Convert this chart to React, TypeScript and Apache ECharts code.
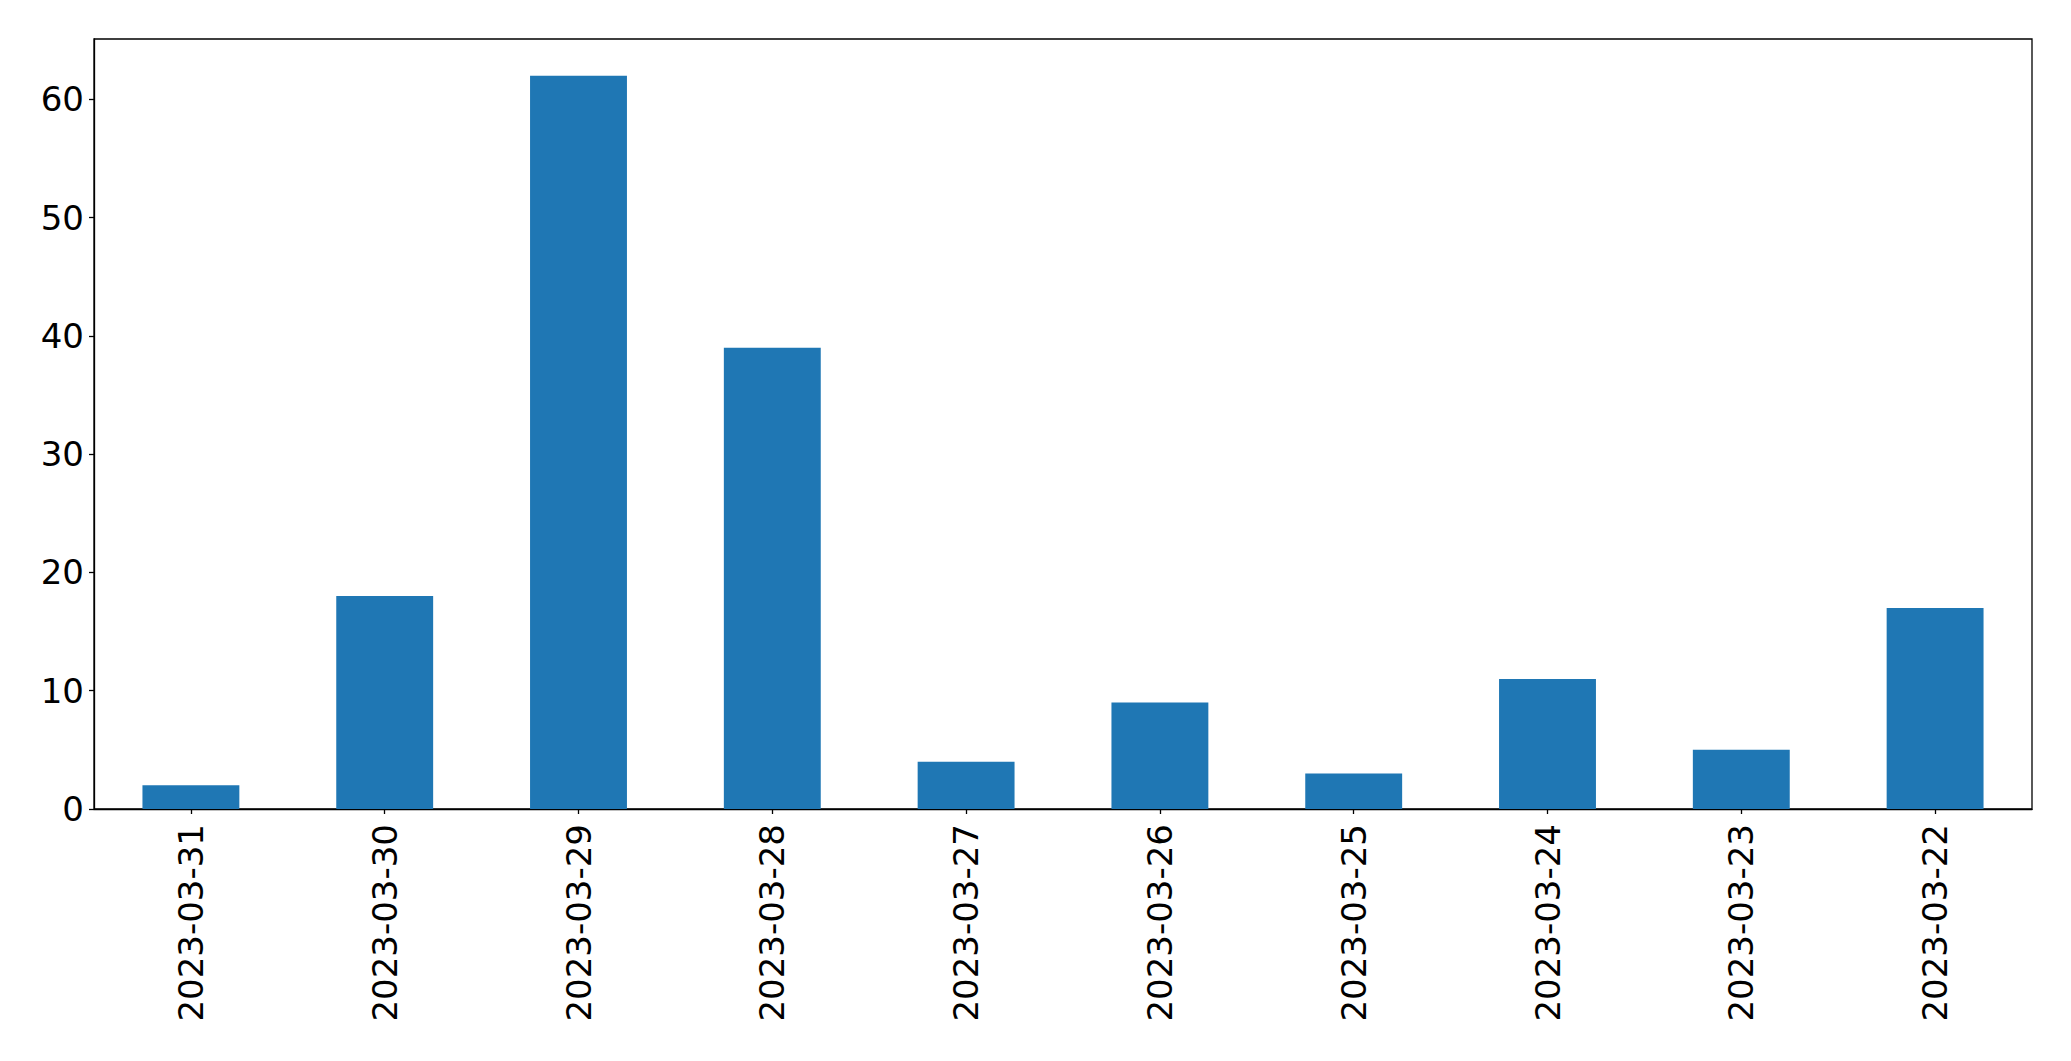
import React, { useEffect, useRef } from "react";
import * as echarts from "echarts";

const categories = [
  "2023-03-31",
  "2023-03-30",
  "2023-03-29",
  "2023-03-28",
  "2023-03-27",
  "2023-03-26",
  "2023-03-25",
  "2023-03-24",
  "2023-03-23",
  "2023-03-22",
];
const values = [2, 18, 62, 39, 4, 9, 3, 11, 5, 17];
const yTicks = [0, 10, 20, 30, 40, 50, 60];
const yMax = 65.1;

export default function App() {
  const ref = useRef<HTMLDivElement>(null);
  useEffect(() => {
    document.body.style.margin = "0";
    const chart = echarts.init(ref.current!, null, { renderer: "svg" });
    const font = "DejaVu Sans";
    chart.setOption({
      animation: false,
      backgroundColor: "#ffffff",
      grid: {
        left: 94,
        top: 39,
        width: 1938,
        height: 770,
        show: true,
        borderColor: "#000000",
        borderWidth: 1.3,
        backgroundColor: "transparent",
        containLabel: false,
      },
      xAxis: {
        type: "category",
        data: categories,
        boundaryGap: true,
        axisLine: { show: true, lineStyle: { color: "#000", width: 1.3 } },
        axisTick: { show: true, alignWithLabel: true, length: 5, lineStyle: { color: "#000", width: 1.3 } },
        axisLabel: {
          rotate: 90,
          interval: 0,
          margin: 15,
          color: "#000",
          fontSize: 34,
          fontFamily: font,
        },
        splitLine: { show: false },
      },
      yAxis: {
        type: "value",
        min: 0,
        max: yMax,
        interval: 10,
        axisLine: { show: true, lineStyle: { color: "#000", width: 1.3 } },
        axisTick: { show: true, length: 5, customValues: yTicks, lineStyle: { color: "#000", width: 1.3 } },
        axisLabel: {
          margin: 10,
          color: "#000",
          fontSize: 34,
          fontFamily: font,
          customValues: yTicks,
        },
        splitLine: { show: false },
      },
      series: [
        {
          type: "bar",
          data: values,
          barWidth: "50%",
          itemStyle: { color: "#1f77b4" },
        },
      ],
    });
    return () => chart.dispose();
  }, []);
  return (
    <div
      ref={ref}
      style={{ position: "absolute", left: 0, top: 0, width: 2071, height: 1061 }}
    />
  );
}
